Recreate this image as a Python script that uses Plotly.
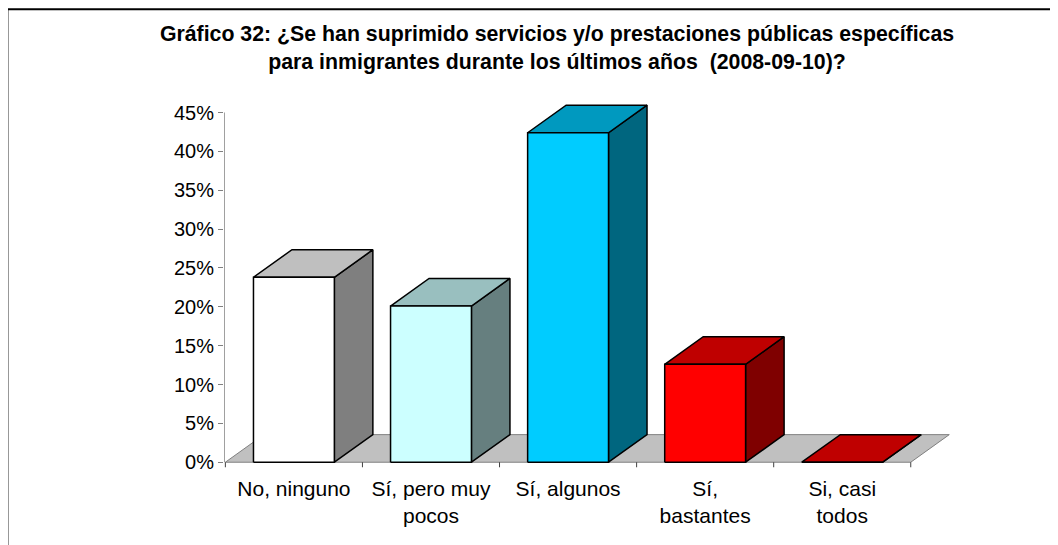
import plotly.graph_objects as go

# ---------------- data ----------------
categories = ["No, ninguno", "Sí, pero muy<br>pocos", "Sí, algunos", "Sí,<br>bastantes", "Si, casi<br>todos"]
values = [23.8, 20.1, 42.4, 12.6, 0.0]          # percent
front_colors = ["#FFFFFF", "#CCFFFF", "#00CCFF", "#FF0000", "#FF0000"]
y_ticks = [0, 5, 10, 15, 20, 25, 30, 35, 40, 45]
title_text = ("<b>Gráfico 32: ¿Se han suprimido servicios y/o prestaciones públicas específicas<br>"
              "para inmigrantes durante los últimos años  (2008-09-10)?</b>")

# ---------------- style / geometry ----------------
OFF = 8                      # page body margin
W, H = 1058 - OFF, 545 - OFF
HALF_W = 0.295               # half bar width in category units
DX = 0.281                   # depth offset (category units)
DY = 3.55                    # depth offset (percent units)
X_RANGE = [-0.51, 4.83]
Y_RANGE = [-1.0, 47.0]
PX_PER_X = 137.1
PX_PER_Y = 7.756
X_LEFT_PX = 225 - OFF        # pixel of x = -0.5
Y0_PX = 462 - OFF            # pixel of y = 0
ML = X_LEFT_PX + (X_RANGE[0] + 0.5) * PX_PER_X
PW = (X_RANGE[1] - X_RANGE[0]) * PX_PER_X
MR = W - ML - PW
MB = H - (Y0_PX + (-Y_RANGE[0]) * PX_PER_Y)
PH = (Y_RANGE[1] - Y_RANGE[0]) * PX_PER_Y
MT = H - MB - PH

FONT = "Arial, Liberation Sans, sans-serif"
EDGE = "#000000"


def shade(hex_color, f):
    h = hex_color.lstrip("#")
    r, g, b = (int(h[i:i + 2], 16) for i in (0, 2, 4))
    return "#%02X%02X%02X" % (int(r * f), int(g * f), int(b * f))


def poly(xs, ys, fill, line_color=EDGE, width=1.5):
    return go.Scatter(x=xs + [xs[0]], y=ys + [ys[0]], mode="lines", fill="toself",
                      fillcolor=fill, line=dict(color=line_color, width=width),
                      hoverinfo="skip", showlegend=False)


fig = go.Figure()

n = len(categories)
xs_cat = list(range(n))
left_b = -0.5
right_b = n - 0.5

# floor
fig.add_trace(poly([left_b, right_b, right_b + DX, left_b + DX],
                   [0, 0, DY, DY], "#C0C0C0", line_color="#808080", width=1))

# bars (side, top, front)
for xc, v, col in zip(xs_cat, values, front_colors):
    x0, x1 = xc - HALF_W, xc + HALF_W
    fig.add_trace(poly([x1, x1 + DX, x1 + DX, x1], [0, DY, v + DY, v], shade(col, 0.5)))
    fig.add_trace(poly([x0, x1, x1 + DX, x0 + DX], [v, v, v + DY, v + DY], shade(col, 0.75)))
    fig.add_trace(poly([x0, x1, x1, x0], [0, 0, v, v], col))

# x-axis category boundary ticks
tx, ty = [], []
for i in range(n + 1):
    b = left_b + i
    tx += [b, b, None]
    ty += [0, -0.65, None]
fig.add_trace(go.Scatter(x=tx, y=ty, mode="lines", line=dict(color="#404040", width=1),
                         hoverinfo="skip", showlegend=False))

# y-axis line
fig.add_trace(go.Scatter(x=[X_RANGE[0], X_RANGE[0]], y=[y_ticks[0], y_ticks[-1]], mode="lines",
                         line=dict(color="#808080", width=1.5), hoverinfo="skip", showlegend=False))

fig.update_layout(
    width=W, height=H,
    margin=dict(l=ML, r=MR, t=MT, b=MB, pad=0, autoexpand=False),
    paper_bgcolor="white", plot_bgcolor="rgba(0,0,0,0)",
    font=dict(family=FONT, size=20, color="#000000"),
    title=dict(text=title_text, x=(557 - OFF) / W, xref="container", xanchor="center",
               y=1 - 33 / H, yref="container", yanchor="top",
               font=dict(family=FONT, size=21.3, color="#000000")),
    showlegend=False,
    xaxis=dict(range=X_RANGE, showgrid=False, zeroline=False, showline=False,
               tickmode="array", tickvals=xs_cat, ticktext=categories, ticks="",
               ticklabelstandoff=4,
               tickfont=dict(family=FONT, size=21), fixedrange=True),
    yaxis=dict(range=Y_RANGE, showgrid=False, zeroline=False, showline=False,
               tickmode="array", tickvals=y_ticks, ticktext=[f"{t}%" for t in y_ticks],
               ticks="outside", ticklen=5, tickcolor="#808080", tickwidth=1,
               tickfont=dict(family=FONT, size=20), fixedrange=True),
)


# outer chart frame (left and top edges visible)
def px_to_paper_x(px):
    return (px - OFF - ML) / PW


def py_to_paper_y(py):
    return (H - MB - (py - OFF)) / PH


frame = dict(type="line", xref="paper", yref="paper", line=dict(color="#000000", width=2))
fig.add_shape(**frame, x0=px_to_paper_x(7), x1=px_to_paper_x(7), y0=py_to_paper_y(10), y1=py_to_paper_y(560))
fig.add_shape(**frame, x0=px_to_paper_x(7), x1=px_to_paper_x(1070), y0=py_to_paper_y(10), y1=py_to_paper_y(10))

fig.write_html("out.html")
